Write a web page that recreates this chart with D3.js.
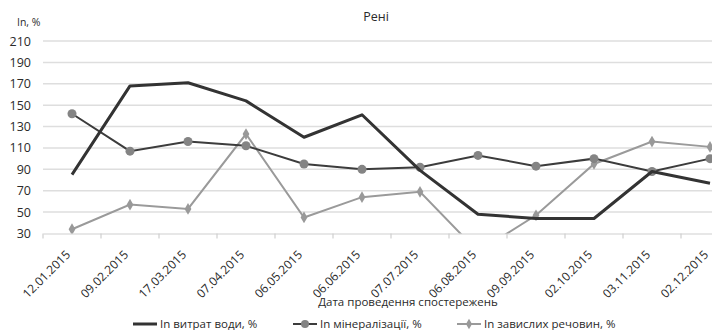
<!DOCTYPE html>
<html>
<head>
    <meta charset="utf-8">
    <script src="https://cdn.jsdelivr.net/npm/d3@7"></script>
    <style>
        body { margin: 0; background: #fff; }
        svg { font-family: 'Open Sans', sans-serif; }
    </style>
</head>
<body>
<svg id="chart" width="712" height="330"></svg>
<script>
    // data
    let dates = ['12.01.2015', '09.02.2015', '17.03.2015', '07.04.2015', '06.05.2015', '06.06.2015',
        '07.07.2015', '06.08.2015', '09.09.2015', '02.10.2015', '03.11.2015', '02.12.2015']
    let water = [85, 168, 171, 154, 120, 141, 89, 48, 44, 44, 88, 77]
    let mineral = [142, 107, 116, 112, 95, 90, 92, 103, 93, 100, 88, 100]
    let suspended = [34, 57, 53, 123, 45, 64, 69, 13, 47, 95, 116, 111]
    let yTicks = [30, 50, 70, 90, 110, 130, 150, 170, 190, 210]
    let legendNames = ['In  витрат води, %', 'In мінералізації, %', 'In завислих речовин, %']

    let svg = d3.select('#chart')
    let plotLeft = 43, plotTop = 41, plotBottom = 233.5, plotRight = 43 + 12 * 58

    let x = d3.scaleBand().domain(dates).range([plotLeft, plotRight])
    let y = d3.scaleLinear().domain([30, 210]).range([plotBottom, plotTop])

    // gridlines
    svg.append('g')
        .selectAll('line')
        .data(yTicks.slice(1))
        .enter()
        .append('line')
        .attr('x1', plotLeft).attr('x2', plotRight)
        .attr('y1', d => y(d)).attr('y2', d => y(d))
        .attr('stroke', '#dedede')
        .attr('stroke-width', 1.5)

    // y labels
    svg.append('g')
        .selectAll('text')
        .data(yTicks)
        .enter()
        .append('text')
        .attr('x', 31)
        .attr('y', d => y(d) + 4.5)
        .attr('text-anchor', 'end')
        .style('font-size', '12.5px')
        .style('fill', '#2a2a2a')
        .text(d => d)

    // x axis
    let xAxis = svg.append('g')
        .attr('transform', 'translate(0,' + plotBottom + ')')
        .call(d3.axisBottom(x).tickSize(0).tickFormat(''))
    xAxis.select('.domain').attr('stroke', '#cfcfcf').attr('stroke-width', 1.2)
    xAxis.selectAll('.tk')
        .data(d3.range(dates.length + 1))
        .enter()
        .append('line')
        .attr('class', 'tk')
        .attr('x1', i => plotLeft + i * x.step()).attr('x2', i => plotLeft + i * x.step())
        .attr('y1', 0).attr('y2', 5)
        .attr('stroke', '#cfcfcf')
        .attr('stroke-width', 1.2)

    svg.append('g')
        .selectAll('text')
        .data(dates)
        .enter()
        .append('text')
        .attr('text-anchor', 'end')
        .attr('transform', d => 'translate(' + (x(d) + x.bandwidth() / 2 - 1) + ',' + (plotBottom + 22) + ') rotate(-45)')
        .style('font-size', '12px')
        .style('fill', '#2a2a2a')
        .text(d => d)

    // clip for plot area
    svg.append('clipPath').attr('id', 'plotclip')
        .append('rect')
        .attr('x', plotLeft).attr('y', 0)
        .attr('width', plotRight - plotLeft).attr('height', plotBottom)

    let line = d3.line()
        .x((d, i) => x(dates[i]) + x.bandwidth() / 2)
        .y(d => y(d))

    let plot = svg.append('g').attr('clip-path', 'url(#plotclip)')

    plot.append('path')
        .datum(suspended)
        .attr('d', line)
        .attr('fill', 'none')
        .attr('stroke', '#9a9a9a')
        .attr('stroke-width', 2)
    plot.selectAll('.dia')
        .data(suspended)
        .enter()
        .append('path')
        .attr('class', 'dia')
        .attr('d', d3.symbol().type(d3.symbolDiamond).size(40))
        .attr('transform', (d, i) => 'translate(' + (x(dates[i]) + x.bandwidth() / 2) + ',' + y(d) + ')')
        .attr('fill', '#999')

    plot.append('path')
        .datum(mineral)
        .attr('d', line)
        .attr('fill', 'none')
        .attr('stroke', '#3c3c3c')
        .attr('stroke-width', 2)
    plot.selectAll('.dot')
        .data(mineral)
        .enter()
        .append('circle')
        .attr('class', 'dot')
        .attr('cx', (d, i) => x(dates[i]) + x.bandwidth() / 2)
        .attr('cy', d => y(d))
        .attr('r', 4.5)
        .attr('fill', '#848484')

    plot.append('path')
        .datum(water)
        .attr('d', line)
        .attr('fill', 'none')
        .attr('stroke', '#333')
        .attr('stroke-width', 3)
        .attr('stroke-linejoin', 'round')

    // titles
    svg.append('text')
        .attr('x', 376).attr('y', 21)
        .attr('text-anchor', 'middle')
        .style('font-size', '12.5px')
        .style('fill', '#2a2a2a')
        .text('Рені')
    svg.append('text')
        .attr('x', 17).attr('y', 26)
        .style('font-size', '10.5px')
        .style('fill', '#2a2a2a')
        .text('In, %')
    svg.append('text')
        .attr('x', 408).attr('y', 306)
        .attr('text-anchor', 'middle')
        .style('font-size', '11.5px')
        .style('fill', '#2a2a2a')
        .text('Дата проведення спостережень')

    // legend
    let legendX = [133, 293, 457]
    let legend = svg.append('g')
        .selectAll('g')
        .data(legendNames)
        .enter()
        .append('g')
        .attr('transform', (d, i) => 'translate(' + legendX[i] + ',324)')
    legend.append('line')
        .attr('x1', 0).attr('x2', 24).attr('y1', 0).attr('y2', 0)
        .attr('stroke', (d, i) => ['#333', '#3c3c3c', '#9a9a9a'][i])
        .attr('stroke-width', (d, i) => i === 0 ? 3 : 2)
    legend.filter((d, i) => i === 1).append('circle')
        .attr('cx', 12).attr('cy', 0).attr('r', 4)
        .attr('fill', '#848484')
    legend.filter((d, i) => i === 2).append('path')
        .attr('d', d3.symbol().type(d3.symbolDiamond).size(32))
        .attr('transform', 'translate(12,0)')
        .attr('fill', '#999')
    legend.append('text')
        .attr('x', 27).attr('y', 4)
        .style('font-size', '11.5px')
        .style('fill', '#2a2a2a')
        .text(d => d)
</script>
</body>
</html>
